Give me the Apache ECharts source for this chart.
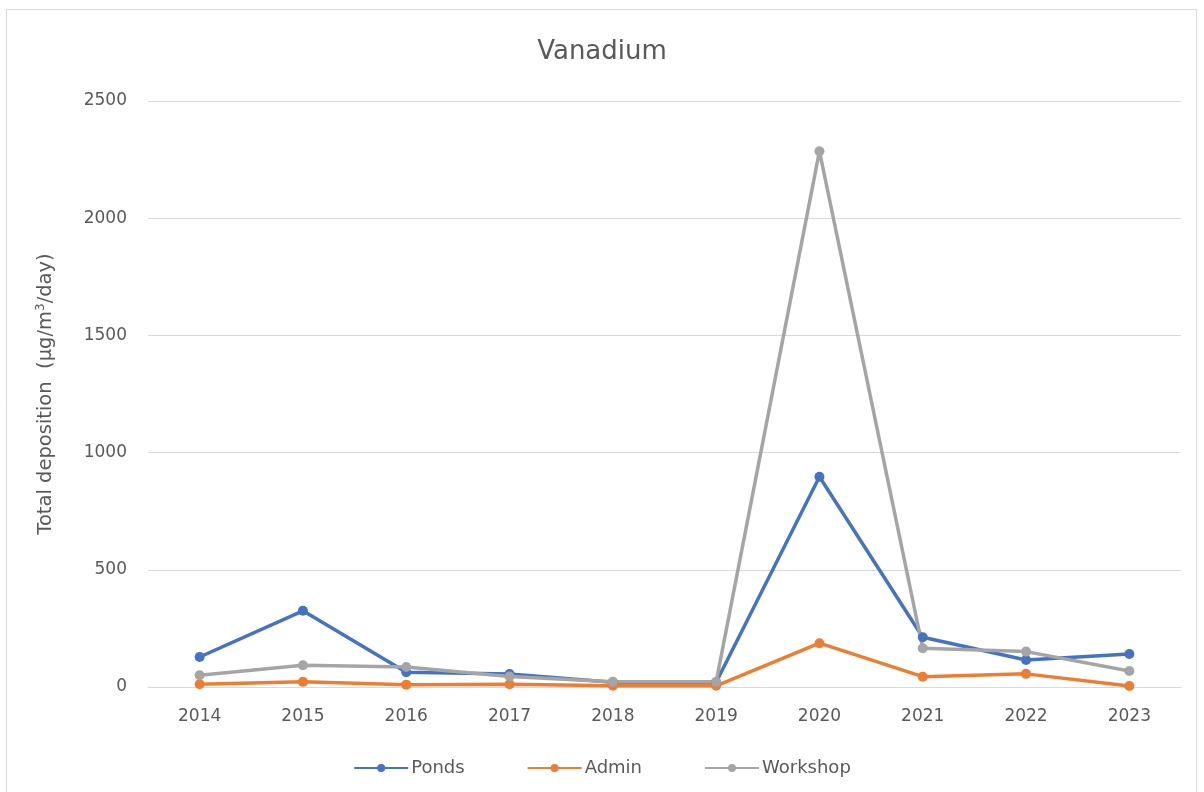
<!DOCTYPE html>
<html>
<head>
<meta charset="utf-8">
<script src="https://cdn.jsdelivr.net/npm/echarts@6/dist/echarts.min.js"></script>
<style>
  html, body { margin: 0; padding: 0; background: #ffffff; }
  #chart { width: 1204px; height: 792px; }
</style>
</head>
<body>
<div id="chart"></div>
<script>
// Vanadium total deposition by monitoring site, 2014–2023
const years = ['2014', '2015', '2016', '2017', '2018', '2019', '2020', '2021', '2022', '2023'];
const ponds = [128, 325, 63, 55, 20, 20, 897, 212, 115, 141];
const admin = [12, 22, 10, 12, 5, 5, 187, 44, 56, 4];
const workshop = [50, 93, 85, 45, 22, 22, 2286, 165, 151, 68];
const yTicks = { min: 0, max: 2500, interval: 500 };

const font = '"DejaVu Sans", "Open Sans", sans-serif';
const textGray = '#595959';

function lineSeries(name, data, color) {
  return {
    name: name,
    type: 'line',
    data: data,
    symbol: 'circle',
    symbolSize: 10,
    lineStyle: { width: 3.5, color: color },
    itemStyle: { color: color },
    emphasis: { disabled: true }
  };
}

const chart = echarts.init(document.getElementById('chart'), null, { renderer: 'canvas' });
chart.setOption({
  animation: false,
  backgroundColor: '#ffffff',
  title: {
    text: 'Vanadium',
    left: 'center',
    top: 34,
    textStyle: { fontFamily: font, fontSize: 26, fontWeight: 'normal', color: textGray }
  },
  graphic: [{
    type: 'rect',
    shape: { x: 6.5, y: 9.5, width: 1190, height: 790 },
    style: { fill: 'none', stroke: '#d9d9d9', lineWidth: 1 },
    silent: true
  }],
  legend: {
    top: 754,
    left: 'center',
    itemGap: 62,
    itemWidth: 54,
    itemHeight: 10,
    textStyle: { fontFamily: font, fontSize: 18, color: textGray, padding: [0, 0, 0, -2] },
    data: ['Ponds', 'Admin', 'Workshop']
  },
  grid: { left: 148, right: 23, top: 101, bottom: 105, containLabel: false },
  xAxis: {
    type: 'category',
    data: years,
    boundaryGap: true,
    axisLine: { show: true, lineStyle: { color: '#d9d9d9', width: 1 } },
    axisTick: { show: false },
    axisLabel: { fontFamily: font, fontSize: 17, color: textGray, margin: 21 }
  },
  yAxis: {
    type: 'value',
    min: yTicks.min,
    max: yTicks.max,
    interval: yTicks.interval,
    name: 'Total deposition  (µg/m{sup|3}/day)',
    nameLocation: 'middle',
    nameGap: 91,
    nameTextStyle: {
      fontFamily: font, fontSize: 19.5, color: textGray,
      rich: { sup: { fontFamily: font, fontSize: 12, color: textGray, verticalAlign: 'bottom', padding: [0, 0, 10, 0] } }
    },
    axisLine: { show: false },
    axisTick: { show: false },
    axisLabel: {
      fontFamily: font, fontSize: 17, color: textGray, margin: 21,
      formatter: function (v) { return String(v); }
    },
    splitLine: { lineStyle: { color: '#d9d9d9', width: 1 } }
  },
  series: [
    lineSeries('Ponds', ponds, '#4472C4'),
    lineSeries('Admin', admin, '#ED7D31'),
    lineSeries('Workshop', workshop, '#A5A5A5')
  ]
});
</script>
</body>
</html>
